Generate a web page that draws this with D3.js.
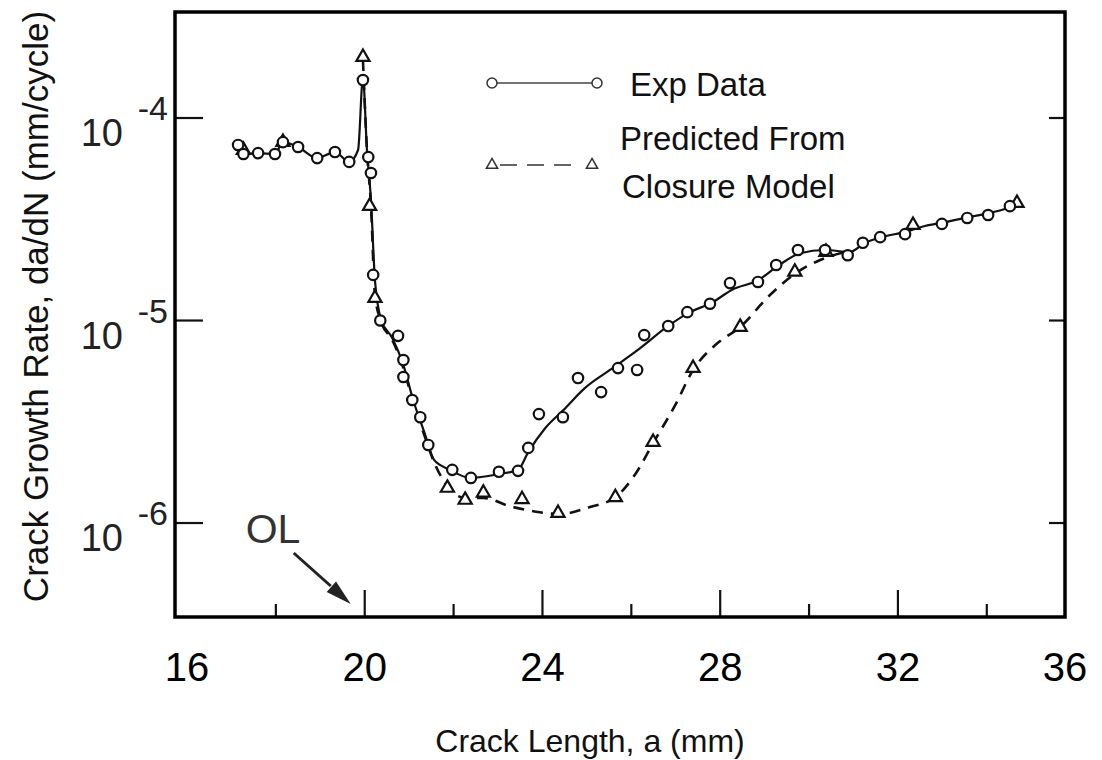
<!DOCTYPE html>
<html>
<head>
<meta charset="utf-8">
<script src="https://cdn.jsdelivr.net/npm/d3@7"></script>
<style>
    body { margin: 0; background: #fff; }
    text { font-family: "Liberation Sans", Arial, sans-serif; }
</style>
</head>
<body>
<div id="chart"></div>
<script>
// experimental data (circles): crack length a (mm), da/dN (mm/cycle)
const expX = [17.15, 17.27, 17.60, 17.98, 18.16, 18.50, 18.93, 19.33, 19.65, 19.96, 20.08, 20.14, 20.19, 20.35, 20.75,
    20.87, 20.87, 21.07, 21.25, 21.43, 21.97, 22.39, 23.02, 23.45, 23.68, 23.92, 24.46, 24.80, 25.32, 25.70,
    26.13, 26.29, 26.83, 27.26, 27.77, 28.22, 28.85, 29.26, 29.75, 30.36, 30.87, 31.21, 31.60, 32.16, 32.99,
    33.56, 34.03, 34.52];
const expY = [7.36e-5, 6.64e-5, 6.71e-5, 6.64e-5, 7.6e-5, 7.19e-5, 6.34e-5, 6.79e-5, 6.07e-5, 1.54e-4, 6.41e-5, 5.35e-5, 1.68e-5, 1.0e-5, 8.4e-6,
    6.38e-6, 5.26e-6, 4.05e-6, 3.33e-6, 2.43e-6, 1.83e-6, 1.67e-6, 1.79e-6, 1.81e-6, 2.35e-6, 3.45e-6, 3.33e-6, 5.2e-6, 4.43e-6, 5.82e-6,
    5.70e-6, 8.47e-6, 9.39e-6, 1.10e-5, 1.21e-5, 1.53e-5, 1.55e-5, 1.88e-5, 2.23e-5, 2.23e-5, 2.10e-5, 2.42e-5, 2.58e-5, 2.67e-5, 3.0e-5,
    3.21e-5, 3.32e-5, 3.67e-5];

// predicted from closure model (triangles)
const predX = [17.27, 18.16, 19.96, 20.11, 20.23, 21.86, 22.26, 22.67, 23.54, 24.35, 25.64, 26.49, 27.39, 28.45, 29.68, 30.38, 32.34, 34.68];
const predY = [6.95e-5, 7.61e-5, 2.0e-4, 3.67e-5, 1.29e-5, 1.49e-6, 1.30e-6, 1.41e-6, 1.31e-6, 1.12e-6, 1.34e-6, 2.51e-6, 5.82e-6, 9.29e-6, 1.74e-5, 2.18e-5, 2.96e-5, 3.80e-5];

// hand drawn curve through the experimental data (solid)
const expFitX = [17.15, 17.27, 17.60, 17.98, 18.16, 18.50, 18.93, 19.33, 19.65, 19.85, 19.96, 20.05, 20.14, 20.23, 20.37, 20.62,
    20.87, 21.09, 21.34, 21.56, 21.92, 22.37, 23.05, 23.45, 23.68, 24.06, 24.47, 24.96, 25.52, 26.20, 26.83, 27.32,
    27.80, 28.27, 28.85, 29.30, 29.80, 30.36, 30.92, 31.26, 31.64, 32.16, 32.61, 33.06, 33.58, 34.07, 34.57, 34.68];
const expFitY = [7.36e-5, 6.64e-5, 6.71e-5, 6.64e-5, 7.61e-5, 7.19e-5, 6.34e-5, 6.79e-5, 6.07e-5, 6.95e-5, 1.576e-4, 6.95e-5, 3.94e-5, 1.58e-5, 1.006e-5, 8.2e-6,
    6.03e-6, 4.05e-6, 2.81e-6, 2.05e-6, 1.83e-6, 1.67e-6, 1.75e-6, 1.83e-6, 2.24e-6, 2.94e-6, 3.61e-6, 4.65e-6, 5.70e-6, 7.31e-6, 9.4e-6, 1.10e-5,
    1.22e-5, 1.42e-5, 1.58e-5, 1.86e-5, 2.15e-5, 2.23e-5, 2.18e-5, 2.42e-5, 2.58e-5, 2.74e-5, 2.93e-5, 3.06e-5, 3.24e-5, 3.40e-5, 3.68e-5, 3.80e-5];

// predicted curve (dashed)
const predFitX = [19.96, 20.05, 20.14, 20.23, 20.37, 20.62, 20.87, 21.09, 21.34, 21.56, 21.86, 22.26, 22.67, 23.27,
    23.94, 24.39, 25.07, 25.64, 26.08, 26.49, 26.99, 27.39, 27.89, 28.45, 29.12, 29.68, 30.25, 30.81];
const predFitY = [1.934e-4, 6.95e-5, 3.72e-5, 1.336e-5, 9.84e-6, 8.02e-6, 5.82e-6, 3.96e-6, 2.72e-6, 2.0e-6, 1.52e-6, 1.33e-6, 1.33e-6, 1.21e-6,
    1.13e-6, 1.107e-6, 1.20e-6, 1.34e-6, 1.73e-6, 2.48e-6, 3.83e-6, 5.70e-6, 7.57e-6, 9.29e-6, 1.336e-5, 1.70e-5, 1.99e-5, 2.18e-5];

// ticks
const xTicks = [16, 20, 24, 28, 32, 36];
const xMinorTicks = [18, 22, 26, 30, 34];
const yTicks = [1e-4, 1e-5, 1e-6];
const yTickExp = ["-4", "-5", "-6"];
const overloadAt = 20;

class CrackGrowthVis {
    constructor(_parentElement) {
        this.parentElement = _parentElement;
        this.initVis();
    }

    initVis() {
        const vis = this;

        vis.margin = { top: 12, right: 37, bottom: 143, left: 175 };
        vis.width = 1102 - vis.margin.left - vis.margin.right;
        vis.height = 760 - vis.margin.top - vis.margin.bottom;

        vis.svg = d3.select(`#${vis.parentElement}`)
            .append("svg")
            .attr("width", 1102)
            .attr("height", 760)
            .append("g")
            .attr("transform", `translate(${vis.margin.left},${vis.margin.top})`);

        // scales (frame edges are a little inside 16 and 36 in the original)
        vis.xScale = d3.scaleLinear().domain([15.73, 35.76]).range([0, vis.width]);
        vis.yScale = d3.scaleLog().domain([3.435e-7, 3.338e-4]).range([vis.height, 0]);

        vis.expData = expX.map((x, i) => ({ x: x, y: expY[i] }));
        vis.predData = predX.map((x, i) => ({ x: x, y: predY[i] }));
        vis.expFit = expFitX.map((x, i) => ({ x: x, y: expFitY[i] }));
        vis.predFit = predFitX.map((x, i) => ({ x: x, y: predFitY[i] }));

        vis.drawAxes();
        vis.drawData();
        vis.drawLegend();
    }

    drawAxes() {
        const vis = this;

        // bottom ticks, major and minor
        vis.svg.selectAll(".x-major").data(xTicks.filter(d => d > 16 && d < 36)).enter()
            .append("line")
            .attr("x1", d => vis.xScale(d)).attr("x2", d => vis.xScale(d))
            .attr("y1", vis.height).attr("y2", vis.height - 27)
            .attr("stroke", "#111").attr("stroke-width", 2.2);
        vis.svg.selectAll(".x-minor").data(xMinorTicks).enter()
            .append("line")
            .attr("x1", d => vis.xScale(d)).attr("x2", d => vis.xScale(d))
            .attr("y1", vis.height).attr("y2", vis.height - 13)
            .attr("stroke", "#111").attr("stroke-width", 2.2);

        // left and right ticks
        vis.svg.selectAll(".y-left").data(yTicks).enter()
            .append("line")
            .attr("x1", 0).attr("x2", 28)
            .attr("y1", d => vis.yScale(d)).attr("y2", d => vis.yScale(d))
            .attr("stroke", "#111").attr("stroke-width", 2.2);
        vis.svg.selectAll(".y-right").data(yTicks).enter()
            .append("line")
            .attr("x1", vis.width).attr("x2", vis.width - 16)
            .attr("y1", d => vis.yScale(d)).attr("y2", d => vis.yScale(d))
            .attr("stroke", "#111").attr("stroke-width", 2.2);

        // frame
        vis.svg.append("rect")
            .attr("width", vis.width).attr("height", vis.height)
            .attr("fill", "none").attr("stroke", "#000").attr("stroke-width", 3.5);

        // x tick labels
        vis.svg.selectAll(".x-label").data(xTicks).enter()
            .append("text")
            .attr("x", d => Math.max(0, Math.min(vis.width, vis.xScale(d))))
            .attr("y", vis.height + 64)
            .attr("text-anchor", "middle")
            .attr("font-size", "40px")
            .attr("fill", "#000")
            .text(d => d);

        // y tick labels as 10 with superscript exponent
        vis.svg.selectAll(".y-base").data(yTicks).enter()
            .append("text")
            .attr("x", -52)
            .attr("y", d => vis.yScale(d) + 28)
            .attr("text-anchor", "end")
            .attr("font-size", "38px")
            .attr("fill", "#222")
            .text("10");
        vis.svg.selectAll(".y-exp").data(yTicks).enter()
            .append("text")
            .attr("x", -7)
            .attr("y", d => vis.yScale(d) + 2)
            .attr("text-anchor", "end")
            .attr("font-size", "34px")
            .attr("fill", "#222")
            .text((d, i) => yTickExp[i]);

        // axis titles
        vis.svg.append("text")
            .attr("x", vis.width / 2 - 30)
            .attr("y", vis.height + 135)
            .attr("text-anchor", "middle")
            .attr("font-size", "32px")
            .attr("fill", "#111")
            .text("Crack Length, a (mm)");

        vis.svg.append("text")
            .attr("transform", "rotate(-90)")
            .attr("x", -(vis.height / 2) + 8)
            .attr("y", -127)
            .attr("text-anchor", "middle")
            .attr("font-size", "35px")
            .attr("fill", "#111")
            .text("Crack Growth Rate, da/dN (mm/cycle)");

        // overload marker
        const tipX = vis.xScale(overloadAt) - 14;
        const tipY = vis.height - 13;
        vis.svg.append("text")
            .attr("x", tipX - 105)
            .attr("y", tipY - 61)
            .attr("font-size", "41px")
            .attr("fill", "#333")
            .text("OL");
        vis.svg.append("line")
            .attr("x1", tipX - 57).attr("y1", tipY - 51)
            .attr("x2", tipX - 20).attr("y2", tipY - 18)
            .attr("stroke", "#222").attr("stroke-width", 3);
        const ang = Math.atan2(51, 57);
        const back = 26, half = 7;
        const bx = tipX - back * Math.cos(ang), by = tipY - back * Math.sin(ang);
        vis.svg.append("path")
            .attr("d", `M${tipX},${tipY}L${bx - half * Math.sin(ang)},${by + half * Math.cos(ang)}L${bx + half * Math.sin(ang)},${by - half * Math.cos(ang)}Z`)
            .attr("fill", "#222");
    }

    drawData() {
        const vis = this;

        const line = d3.line()
            .x(d => vis.xScale(d.x))
            .y(d => vis.yScale(d.y))
            .curve(d3.curveMonotoneX);

        vis.svg.append("path")
            .datum(vis.expFit)
            .attr("d", line)
            .attr("fill", "none")
            .attr("stroke", "#111")
            .attr("stroke-width", 2.2);

        vis.svg.append("path")
            .datum(vis.predFit)
            .attr("d", line)
            .attr("fill", "none")
            .attr("stroke", "#111")
            .attr("stroke-width", 2.6)
            .attr("stroke-dasharray", "11,8");

        // triangles
        vis.svg.selectAll(".pred").data(vis.predData).enter()
            .append("path")
            .attr("d", d3.symbol(d3.symbolTriangle, 75))
            .attr("transform", d => `translate(${vis.xScale(d.x)},${vis.yScale(d.y)})`)
            .attr("fill", "#fff")
            .attr("stroke", "#111")
            .attr("stroke-width", 2.2);

        // circles
        vis.svg.selectAll(".exp").data(vis.expData).enter()
            .append("circle")
            .attr("cx", d => vis.xScale(d.x))
            .attr("cy", d => vis.yScale(d.y))
            .attr("r", 5.2)
            .attr("fill", "#fff")
            .attr("stroke", "#111")
            .attr("stroke-width", 2.2);
    }

    drawLegend() {
        const vis = this;
        const lg = vis.svg.append("g").attr("transform", "translate(317,71)");

        lg.append("line").attr("x1", 0).attr("x2", 105).attr("y1", 0).attr("y2", 0)
            .attr("stroke", "#444").attr("stroke-width", 1.6);
        lg.selectAll(".lc").data([0, 105]).enter().append("circle")
            .attr("cx", d => d).attr("cy", 0).attr("r", 5)
            .attr("fill", "#fff").attr("stroke", "#333").attr("stroke-width", 1.5);
        lg.append("text").attr("x", 138).attr("y", 13)
            .attr("font-size", "33px").attr("fill", "#111").text("Exp Data");

        lg.append("line").attr("x1", 0).attr("x2", 100).attr("y1", 82).attr("y2", 82)
            .attr("stroke", "#333").attr("stroke-width", 1.6)
            .attr("stroke-dasharray", "0,8,17,10,17,10,17,30");
        lg.selectAll(".lt").data([0, 100]).enter().append("path")
            .attr("d", d3.symbol(d3.symbolTriangle, 55))
            .attr("transform", d => `translate(${d},${82})`)
            .attr("fill", "#fff").attr("stroke", "#333").attr("stroke-width", 1.5);
        lg.append("text").attr("x", 128).attr("y", 67)
            .attr("font-size", "33px").attr("fill", "#111").text("Predicted From");
        lg.append("text").attr("x", 130).attr("y", 115)
            .attr("font-size", "33px").attr("fill", "#111").text("Closure Model");
    }
}

new CrackGrowthVis("chart");
</script>
</body>
</html>
